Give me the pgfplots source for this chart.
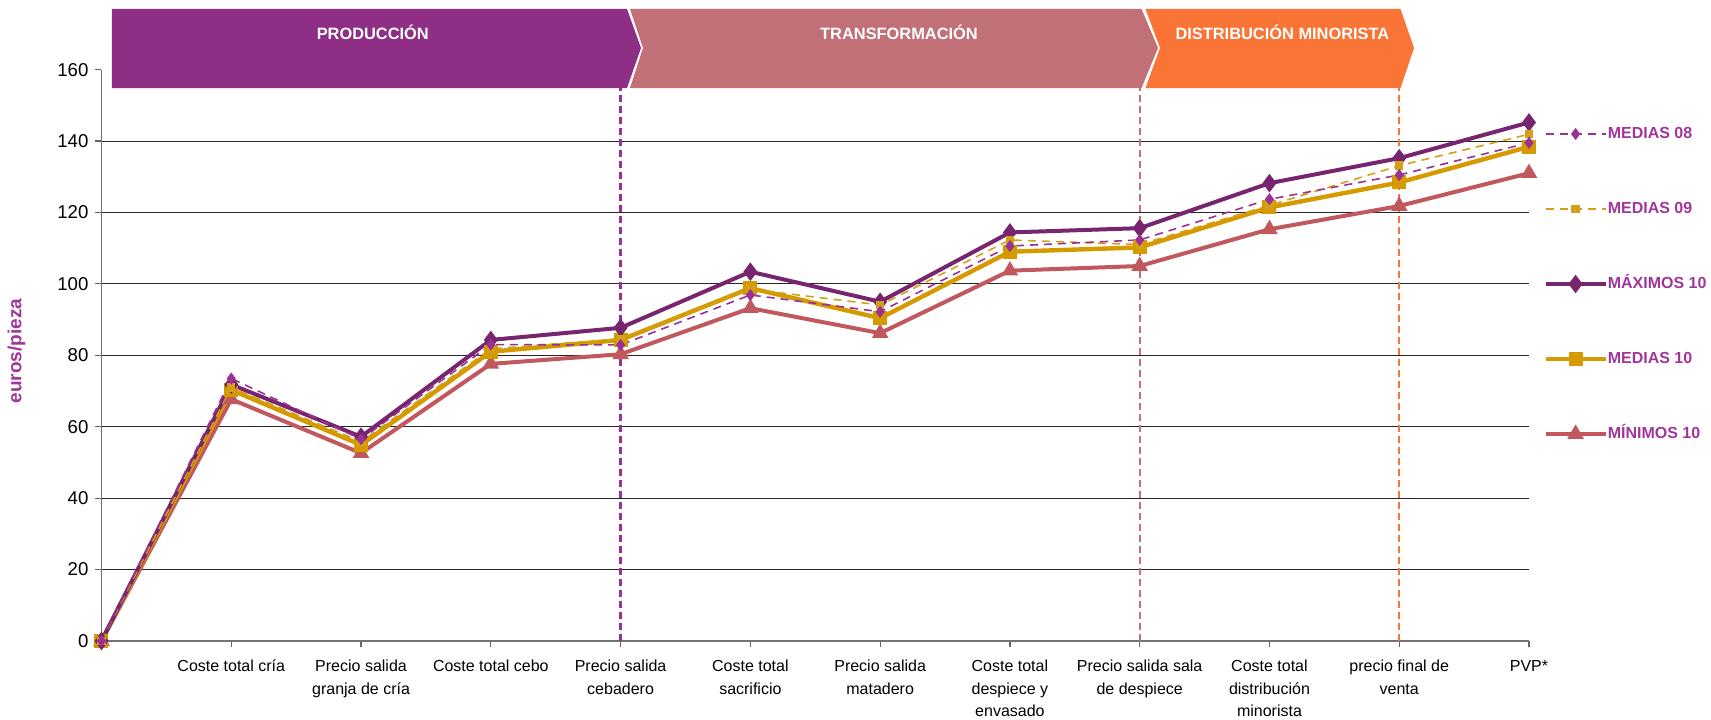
\documentclass[border=0pt]{standalone}
\usepackage{fontspec}
\setmainfont{Liberation Sans}
\usepackage{pgfplots}
\pgfplotsset{compat=1.18}
\definecolor{cMax}{HTML}{77256E}
\definecolor{cMed}{HTML}{D49A00}
\definecolor{cMin}{HTML}{C0585E}
\definecolor{cM08}{HTML}{9B3096}
\definecolor{cM09}{HTML}{D4A017}
\definecolor{cLab}{HTML}{A0369A}
\definecolor{bProd}{HTML}{8E2F85}
\definecolor{bTrans}{HTML}{C27077}
\definecolor{bDist}{HTML}{F97435}
\definecolor{vTrans}{HTML}{C97078}
\begin{document}
\begin{tikzpicture}
\useasboundingbox (-50.75pt,-39pt) rectangle (804.75pt,320.5pt);
\begin{axis}[
  at={(0pt,0pt)}, anchor=south west,
  scale only axis, width=713.75pt, height=285.7pt,
  xmin=0, xmax=11, ymin=0, ymax=160,
  axis x line=bottom, axis y line=left,
  axis line style={-, draw=black!55, line width=0.7pt},
  xtick={0,...,11},
  xticklabels={{},{Coste total cría},{Precio salida\\granja de cría},{Coste total cebo},{Precio salida\\cebadero},{Coste total\\sacrificio},{Precio salida\\matadero},{Coste total\\despiece y\\envasado},{Precio salida sala\\de despiece},{Coste total\\distribución\\minorista},{precio final de\\venta},{PVP*}},
  ytick={0,20,...,140}, extra y ticks={160}, extra y tick style={grid=none},
  ymajorgrids, grid style={black!85, line width=0.5pt},
  tick align=outside, major tick length=3pt,
  tick style={black!60, line width=0.6pt},
  x tick label style={font=\fontsize{8}{11.2}\selectfont, align=center, anchor=north, yshift=-3pt},
  y tick label style={font=\fontsize{9.3}{10}\selectfont},
  /pgf/number format/assume math mode=true,
  ylabel={euros/pieza},
  ylabel style={at={(axis description cs:-0.0595,0.5075)}, anchor=center, font=\bfseries\fontsize{9.5}{11}\selectfont, text=cLab},
  clip=false,
  reverse legend,
  legend style={at={(rel axis cs:1.0098,0.9015)}, anchor=north west, draw=none, fill=none, inner sep=0pt,
    font=\bfseries\fontsize{8}{9}\selectfont, text=cLab, row sep=29.8pt,
    nodes={inner sep=0pt, text height=6pt, text depth=1.7pt}},
  legend cell align=left,
  legend image code/.code={\draw[mark repeat=2,mark phase=2] plot coordinates {(0pt,0pt) (15pt,0pt) (30pt,0pt)};},
]
\draw[cM08, line width=1.1pt, dash pattern=on 3.5pt off 2pt] (axis cs:4,0) -- (axis cs:4,154.9);
\draw[vTrans, line width=1.1pt, dash pattern=on 3.5pt off 2pt] (axis cs:8,0) -- (axis cs:8,154.9);
\draw[bDist, line width=1.1pt, dash pattern=on 3.5pt off 2pt] (axis cs:10,0) -- (axis cs:10,154.9);

\addplot[cMin, line width=2pt, mark=triangle*, mark size=2.8pt, mark options={solid}] coordinates {
(0,0) (1,67.7) (2,52.6) (3,77.6) (4,80.3) (5,93.2) (6,86.2) (7,103.7) (8,105.0) (9,115.3) (10,121.8) (11,131.0)};
\addlegendentry{MÍNIMOS 10}
\addplot[cMed, line width=2.2pt, mark=square*, mark size=2.4pt, mark options={solid}] coordinates {
(0,0) (1,70.3) (2,54.9) (3,81.0) (4,84.3) (5,98.8) (6,90.4) (7,109.0) (8,110.2) (9,121.4) (10,128.4) (11,138.4)};
\addlegendentry{MEDIAS 10}
\addplot[cMax, line width=2pt, mark=diamond*, mark size=3pt, mark options={solid}] coordinates {
(0,0) (1,71.8) (2,57.2) (3,84.3) (4,87.7) (5,103.4) (6,95.0) (7,114.4) (8,115.6) (9,128.2) (10,135.2) (11,145.2)};
\addlegendentry{MÁXIMOS 10}
\addplot[cM09, line width=0.8pt, dash pattern=on 4pt off 3pt, mark=square*, mark size=1.7pt, mark options={solid}] coordinates {
(0,0) (1,71.0) (2,55.8) (3,81.8) (4,84.6) (5,98.5) (6,94.1) (7,112.3) (8,111.0) (9,122.0) (10,133.1) (11,141.9)};
\addlegendentry{MEDIAS 09}
\addplot[cM08, line width=0.8pt, dash pattern=on 4pt off 3pt, mark=diamond*, mark size=2.4pt, mark options={solid}] coordinates {
(0,0) (1,73.5) (2,56.5) (3,83.0) (4,82.9) (5,96.9) (6,92.2) (7,110.6) (8,112.3) (9,123.7) (10,130.5) (11,139.5)};
\addlegendentry{MEDIAS 08}
\end{axis}
% stage banners
\fill[bDist] (522pt,316pt) -- (649.5pt,316pt) -- (656.25pt,296.5pt) -- (649.5pt,276.5pt) -- (522pt,276.5pt) -- (529.25pt,296.5pt) -- cycle;
\fill[bTrans] (264.25pt,316pt) -- (520pt,316pt) -- (528.25pt,296.5pt) -- (520pt,276.5pt) -- (264.25pt,276.5pt) -- (270.75pt,296.5pt) -- cycle;
\fill[bProd] (5.25pt,316pt) -- (262.75pt,316pt) -- (269.75pt,296.5pt) -- (262.75pt,276.5pt) -- (5.25pt,276.5pt) -- cycle;
\node[text=white, font=\bfseries\fontsize{8.2}{10}\selectfont] at (135.65pt,304.15pt) {PRODUCCIÓN};
\node[text=white, font=\bfseries\fontsize{8.2}{10}\selectfont] at (398.75pt,304.5pt) {TRANSFORMACIÓN};
\node[text=white, font=\bfseries\fontsize{8.2}{10}\selectfont] at (590.45pt,304.5pt) {DISTRIBUCIÓN MINORISTA};
\end{tikzpicture}
\end{document}
